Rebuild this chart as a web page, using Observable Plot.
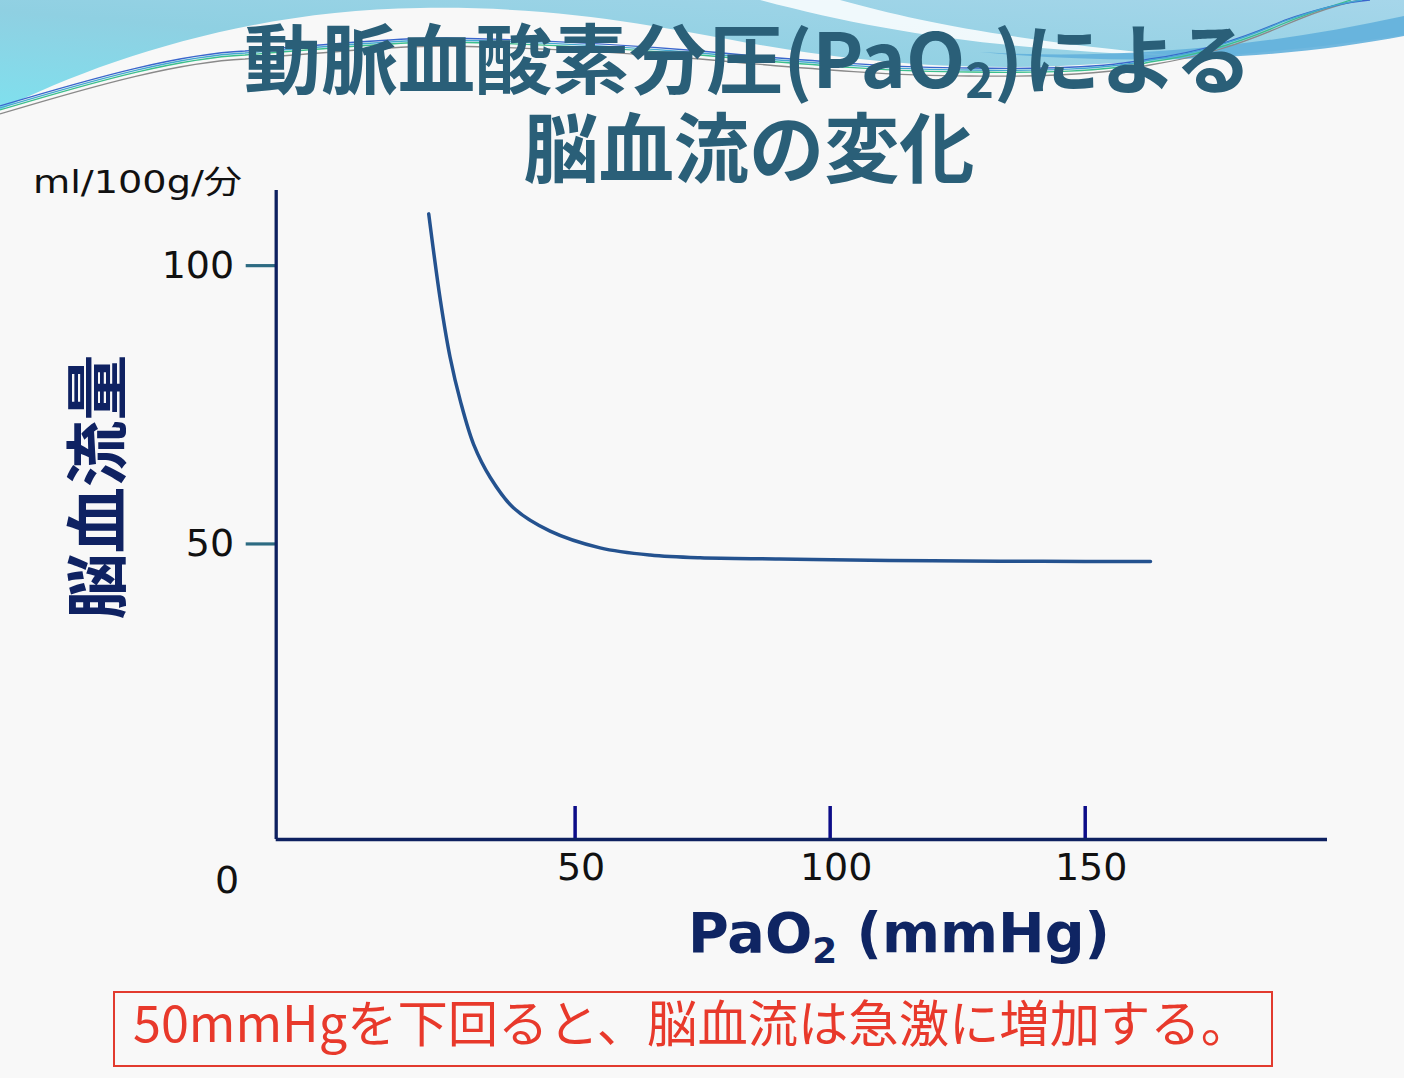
<!DOCTYPE html>
<html>
<head>
<meta charset="utf-8">
<script src="https://cdn.jsdelivr.net/npm/d3@7"></script>
<script src="https://cdn.jsdelivr.net/npm/@observablehq/plot@0.6"></script>
<style>
  html, body { margin: 0; padding: 0; background: #f8f8f8; overflow: hidden; }
  #wrap { position: relative; width: 1404px; height: 1078px; }
  #deco, #chart, #texts { position: absolute; left: 0; top: 0; }
  #chart svg { background: transparent; }
</style>
</head>
<body>
<div id="wrap">
  <svg id="deco" width="1404" height="1078" viewBox="0 0 1404 1078">
    <defs>
      <linearGradient id="gTop" x1="0" y1="1" x2="1" y2="0">
        <stop offset="0" stop-color="#7fe0ee"/>
        <stop offset="0.45" stop-color="#8fd0e2"/>
        <stop offset="1" stop-color="#a6d6ea"/>
      </linearGradient>
    </defs>
    <rect width="1404" height="1078" fill="#f8f8f8"/>
    <path d="M0,0 H1404 V35 C1320,48 1200,60 1060,66 C950,70 860,62 760,45 C650,25 560,6 420,8 C250,10 100,60 0,110 Z" fill="url(#gTop)"/>
    <path d="M760,0 L840,0 C920,22 1010,40 1180,56 C1000,50 880,32 760,0 Z" fill="#ffffff" opacity="0.85"/>
    <path d="M980,52 C1100,60 1250,50 1404,16 V36 C1300,56 1150,68 980,52 Z" fill="#62b0dc" opacity="0.9"/>
    <g fill="none" stroke-width="1.3">
      <path d="M0,110 C100,80 180,58 245,55 C330,48 400,42 446,42 C560,44 640,50 700,55 C820,66 900,72 969,72 C1040,73 1104,72 1150,62 C1200,55 1239,43 1280,25 C1310,12 1335,5 1351,0" stroke="#3cbf8c"/>
      <path d="M0,114 C100,84 180,62 245,59 C330,52 400,46 446,46 C560,48 640,54 700,59 C820,70 900,76 969,76 C1040,77 1104,75 1150,65 C1200,57 1239,45 1285,25 C1315,12 1340,4 1360,0" stroke="#8a8a8a"/>
      <path d="M0,106 C100,76 180,54 245,51 C330,44 400,38 446,38 C560,40 640,46 700,51 C820,62 900,68 969,68 C1040,69 1104,68 1150,59 C1200,52 1239,40 1285,20 C1320,8 1345,2 1370,0" stroke="#3a66cc"/>
      <path d="M0,108 C100,78 180,56 245,53 C330,46 400,40 446,40 C560,42 640,48 700,53 C820,64 900,70 969,70 C1040,71 1104,70 1150,60 C1200,53 1239,41 1282,22 C1315,10 1340,3 1362,0" stroke="#43a8d0"/>
    </g>
  </svg>
  <div id="chart"></div>
  <svg id="texts" width="1404" height="1078" viewBox="0 0 1404 1078" style="pointer-events:none">
    <text font-family="'Noto Sans CJK JP', 'Noto Sans', sans-serif" font-weight="700" fill="#2a5f78" text-anchor="middle" font-size="76"><tspan x="748" y="88" textLength="1008" lengthAdjust="spacingAndGlyphs">動脈血酸素分圧(PaO<tspan font-size="48" dy="10">2</tspan><tspan dy="-10">)による</tspan></tspan><tspan x="749" y="177" textLength="451" lengthAdjust="spacingAndGlyphs">脳血流の変化</tspan></text>
    <text x="33" y="193" font-family="'DejaVu Sans', 'Noto Sans CJK JP', sans-serif" font-size="32" fill="#111"
          textLength="209" lengthAdjust="spacingAndGlyphs">ml/100g/分</text>
    <text transform="translate(92,487) rotate(-90)" text-anchor="middle" dominant-baseline="central"
          font-family="'Noto Sans CJK JP', sans-serif" font-weight="700" font-size="63" fill="#0f2262"
          textLength="265" lengthAdjust="spacingAndGlyphs">脳血流量</text>
    <text x="688" y="952" font-family="'DejaVu Sans', sans-serif" font-weight="700" font-size="56" fill="#0f2563"
          textLength="422" lengthAdjust="spacingAndGlyphs">PaO<tspan font-size="36" dy="11">2</tspan><tspan dy="-11"> (mmHg)</tspan></text>
    <rect x="114" y="992" width="1158" height="74" fill="none" stroke="#e23b2e" stroke-width="2"/>
    <text x="133" y="1042" font-family="'Noto Sans CJK JP', sans-serif" font-size="50" fill="#e8392b"
          textLength="1118" lengthAdjust="spacingAndGlyphs">50mmHgを下回ると、脳血流は急激に増加する。</text>
  </svg>
</div>
<script>
// Data
const pao2 = [21.3, 23.6, 25.5, 27.5, 30.1, 33.4, 37.9, 45.1, 54.9, 64.7, 74.5, 90, 104, 120, 133.4, 150, 162.8];
const cbf  = [109.3, 93.7, 83.5, 75.7, 67.9, 61.9, 56.5, 52.3, 49.3, 48.0, 47.5, 47.3, 47.1, 47.0, 46.9, 46.85, 46.85];
const xTicks = [50, 100, 150];
const yTicks = [50, 100];
const xDomain = [-8.6, 197.5];
const yDomain = [-3.1, 113.5];
const originLabel = ["0"];

const table = pao2.map((x, i) => ({pao2: x, cbf: cbf[i]}));

const navy = "#0e2160";
const chart = Plot.plot({
  width: 1404,
  height: 1078,
  marginLeft: 275.7,
  marginRight: 77,
  marginTop: 190,
  marginBottom: 239,
  style: {fontFamily: "'DejaVu Sans', 'Noto Sans CJK JP', sans-serif", background: "transparent", color: "#111"},
  x: {domain: xDomain},
  y: {domain: yDomain},
  marks: [
    Plot.axisY({ticks: yTicks, tickSize: 30, tickPadding: 12, stroke: "#2d6b82", strokeWidth: 3.2, fill: "#111", fontSize: 38, label: null, tickFormat: d => String(d)}),
    Plot.axisX({ticks: xTicks, tickSize: 0, tickPadding: 14, dx: 6, fill: "#111", fontSize: 38, label: null, tickFormat: d => String(d)}),
    Plot.axisX({ticks: xTicks, tickSize: -33, fill: "none", stroke: "#0c0c88", strokeWidth: 3.5, label: null}),
    Plot.ruleX([xDomain[0]], {stroke: navy, strokeWidth: 3.3}),
    Plot.ruleY([yDomain[0]], {stroke: navy, strokeWidth: 3.3}),
    Plot.line(table, {x: "pao2", y: "cbf", curve: "catmull-rom", stroke: "#24528f", strokeWidth: 3.5}),
    Plot.text(originLabel, {text: d => d, frameAnchor: "bottom-left", dx: -49, dy: 41, textAnchor: "middle", lineAnchor: "middle", fontSize: 38, fill: "#111"})
  ]
});
document.getElementById("chart").appendChild(chart);
</script>
</body>
</html>
